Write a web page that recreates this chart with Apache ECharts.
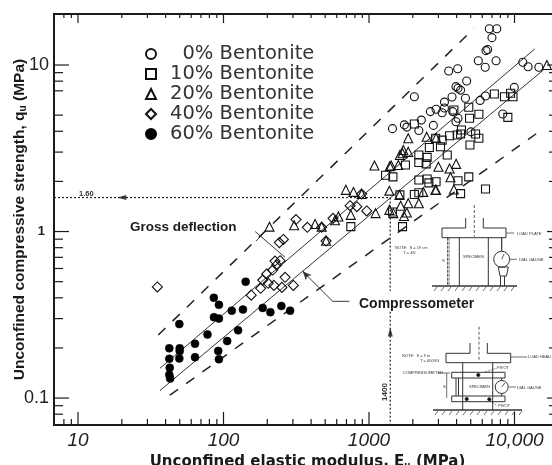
<!DOCTYPE html>
<html><head><meta charset="utf-8">
<style>html,body{margin:0;padding:0;background:#fff}#c{width:552px;height:465px}</style>
<script src="https://cdn.jsdelivr.net/npm/echarts@6/dist/echarts.min.js"></script></head>
<body><div id="c"></div>
<script>
const bentonite0=[[6710,16.5],[7560,16.5],[7000,14.6],[6540,12.4],[6370,12.2],[5640,10.6],[6290,9.7],[7470,10.6],[11400,10.4],[12400,9.77],[14700,9.7],[3530,9.2],[4070,9.5],[4690,8.02],[3960,7.42],[4090,7.25],[4260,7.07],[3720,6.43],[4600,6.32],[3300,5.99],[9970,7.34],[6320,6.52],[5800,6.13],[2050,6.45],[1450,4.15],[1750,4.37],[1820,4.24],[2200,4.04],[2290,4.67],[2770,4.34],[2640,5.25],[2890,5.42],[3180,5.17],[3300,5.52],[3760,5.25],[4090,4.79],[3960,4.56],[8300,5.08],[5020,3.97]];
const bentonite10=[[2050,4.42],[7270,6.7],[8530,6.45],[9760,6.45],[9400,6.77],[9000,4.85],[4850,5.58],[4910,4.79],[5690,5.06],[3830,5.37],[4320,4.07],[4040,3.8],[3580,3.76],[2870,3.63],[3180,3.54],[4260,3.85],[5400,3.85],[5690,3.63],[4940,3.31],[2600,3.2],[3100,3.23],[3450,2.88],[2200,2.88],[2510,2.79],[2200,2.6],[2470,2.55],[1780,2.51],[1300,2.18],[1460,2.13],[2200,2.04],[2510,2.07],[2890,1.99],[2580,1.96],[4090,2.02],[4850,2.13],[6320,1.8],[4260,1.69],[2050,1.67],[2200,1.71],[1630,1.66],[1450,1.31],[750,1.07],[1700,1.07]];
const bentonite20=[[207,1.07],[306,1.09],[426,1.11],[473,1.07],[693,1.78],[782,1.73],[890,1.68],[1380,1.76],[1620,1.66],[2360,1.73],[2860,1.78],[1650,1.43],[1860,1.48],[2200,1.48],[750,1.26],[1110,1.29],[1380,1.35],[1470,1.29],[1820,1.3],[1740,1.24],[616,1.23],[584,1.17],[507,0.88],[1860,3.63],[1390,2.47],[1590,2.51],[1720,3.09],[1630,2.88],[1860,3.01],[2490,3.71],[2890,3.65],[3000,2.45],[3580,2.39],[3970,2.55],[1090,2.49],[1420,2.49],[1700,2.95],[3630,2.12],[2890,1.78],[3830,1.79],[16700,10]];
const bentonite40=[[35.1,0.465],[155,0.415],[180,0.456],[186,0.511],[198,0.556],[203,0.489],[222,0.475],[252,0.462],[302,0.475],[265,0.531],[315,1.18],[377,1.06],[473,1.06],[507,0.877],[258,0.897],[242,0.858],[226,0.665],[245,0.668],[232,0.63],[218,0.587],[890,1.68],[825,1.41],[965,1.33],[741,1.43],[566,1.2]];
const bentonite60=[[142,0.5],[85.8,0.4],[93,0.363],[86,0.306],[93,0.3],[114,0.335],[136,0.34],[186,0.348],[210,0.328],[250,0.357],[287,0.335],[49.7,0.278],[77.6,0.241],[63.7,0.212],[126,0.255],[106,0.22],[92,0.192],[93,0.171],[63.7,0.176],[42.4,0.199],[50,0.199],[50,0.192],[42.4,0.172],[49.7,0.173],[42.7,0.152],[42.4,0.138],[43,0.131]];
const solidUpper=[[36.6,0.151],[13800,12.5]];
const solidLower=[[36.6,0.111],[15800,9.34]];
const dashedUpper=[[35.6,0.239],[5270,16.6]];
const dashedLower=[[42.8,0.104],[14400,3.92]];
const dottedH=[[6.84,1.6],[1400,1.6]];
const dottedV1=[[1400,1.6],[1400,0.44]];
const dottedV2=[[1400,0.33],[1400,0.0689]];
const grossLeader=[[165,1.0],[265,0.7]];
const compLeader=[[350,0.577],[563,0.381],[733,0.381]];
const arrowLeft=[[20,1.6]];
const arrowUp=[[1400,0.249]];
const arrowComp=[[350,0.577]];
const xMajor=[10,100,1000,10000];
const xMinor=[8,9,20,30,40,50,60,70,80,90,200,300,400,500,600,700,800,900,2000,3000,4000,5000,6000,7000,8000,9000];
const yMajor=[0.1,1,10];
const yMinor=[0.08,0.09,0.2,0.3,0.4,0.5,0.6,0.7,0.8,0.9,2,3,4,5,7,8,9];
const xLabels={10:'10',100:'100',1000:'1000',10000:'10,000'};
const yLabels={0.1:'0.1',1:'{one|1}',10:'10'};
const X_MIN=6.84,X_MAX=18390,Y_MIN=0.0689,Y_MAX=20.25;
const INK='#1a1a1a';

function mkAxis(kind,pos,extra){
  return Object.assign({type:'log',logBase:10,position:pos,
    min:kind==='x'?X_MIN:Y_MIN,max:kind==='x'?X_MAX:Y_MAX,
    splitLine:{show:false},minorTick:{show:false},
    axisLine:{show:false},axisTick:{show:false},axisLabel:{show:false}},extra||{});
}
const nameFont={rich:{
  a:{fontFamily:'Liberation Sans',fontWeight:'bold',fontSize:15.5,color:INK},
  b:{fontFamily:'DejaVu Sans',fontWeight:'bold',fontSize:15,color:INK},
  s:{fontFamily:'Liberation Sans',fontWeight:'bold',fontSize:10,color:INK,verticalAlign:'bottom',padding:[5,0,0,0]},
  t:{fontFamily:'DejaVu Sans',fontWeight:'bold',fontSize:9,color:INK,verticalAlign:'bottom',padding:[5,0,0,0]}}};
const xAxes=[mkAxis('x','bottom',{name:'{b|Unconfined elastic modulus, E}{t|u}{b| (MPa)}',nameLocation:'middle',nameGap:25,nameTextStyle:Object.assign({padding:[0,0,0,8]},nameFont),
   axisLabel:{show:true,customValues:xMajor,margin:6,fontFamily:'Liberation Sans',fontStyle:'italic',fontSize:19,color:'#222',formatter:v=>xLabels[Math.round(v)]||''}})];
const yAxes=[mkAxis('y','left',{name:'{a|Unconfined compressive strength, q}{s|u}{a| (MPa)}',nameLocation:'middle',nameGap:26,nameMoveOverlap:false,nameTextStyle:nameFont,
   axisLabel:{show:true,customValues:yMajor,margin:5,fontFamily:'Liberation Sans',fontSize:18,color:'#222',
     rich:{one:{fontFamily:'Liberation Sans',fontWeight:'bold',fontSize:13,color:'#222',padding:[0,4,0,0]}},
     formatter:v=>yLabels[+v.toPrecision(1)]||''}})];

function ticks(vals,axis,anchor,dx,dy){
  return {type:'custom',coordinateSystem:'cartesian2d',silent:true,clip:false,z:5,
    data:vals.map(v=>axis==='x'?[v,anchor]:[anchor,v]),
    encode:{x:0,y:1},
    renderItem:(p,api)=>{const c=api.coord([api.value(0),api.value(1)]);
      return {type:'line',shape:{x1:c[0],y1:c[1],x2:c[0]+dx,y2:c[1]+dy},style:{stroke:INK,lineWidth:1.2}};}};
}
function pts(name,data,symbol,size,filled){
  return {type:'scatter',name,data,symbol,symbolSize:size,z:3,
    itemStyle:filled?{color:'#000',borderColor:'#000',borderWidth:0.5,opacity:1}:{color:'rgba(255,255,255,0)',borderColor:'#111',borderWidth:1.1,opacity:1}};
}
function ln(data,w,type,color){
  return {type:'line',data,symbol:'none',silent:true,z:2,lineStyle:{color:color||'#222',width:w,type:type||'solid'}};
}
const series=[
 ticks(xMajor,'x',Y_MIN,0,-13),ticks(xMinor,'x',Y_MIN,0,-6),
 ticks(xMajor,'x',Y_MAX,0,9),ticks(xMinor,'x',Y_MAX,0,4),
 ticks(yMajor,'y',X_MIN,15,0),ticks(yMinor,'y',X_MIN,9,0),
 ticks(yMajor,'y',X_MAX,-6,0),ticks(yMinor,'y',X_MAX,-4,0),
 ln(solidUpper,1,'solid','#333'),ln(solidLower,1,'solid','#333'),
 ln(dashedUpper,1.5,[10,10]),ln(dashedLower,1.5,[10,10]),
 ln(dottedH,1.2,[2,2]),ln(dottedV1,1.2,[2,2]),ln(dottedV2,1.2,[2,2]),
 ln(grossLeader,0.9),ln(compLeader,0.9),
 {type:'scatter',data:arrowLeft,symbol:'triangle',symbolSize:[5,9],symbolRotate:90,itemStyle:{color:'#111'},silent:true},
 {type:'scatter',data:arrowUp,symbol:'triangle',symbolSize:[5,9],itemStyle:{color:'#111'},silent:true},
 {type:'scatter',data:arrowComp,symbol:'arrow',symbolSize:[6,9],symbolRotate:43,itemStyle:{color:'#111'},silent:true},
 pts('0% Bentonite',bentonite0,'circle',8,false),
 pts('10% Bentonite',bentonite10,'rect',8,false),
 pts('20% Bentonite',bentonite20,'triangle',9,false),
 pts('40% Bentonite',bentonite40,'diamond',10,false),
 pts('60% Bentonite',bentonite60,'circle',8,true)];

const g=[];
function poly(points,w,dash){g.push({type:'polyline',silent:true,z:1,shape:{points},style:{fill:null,stroke:'#333',lineWidth:w||1,lineDash:dash||null}});}
function txt(text,x,y,size,opt){g.push(Object.assign({type:'text',silent:true,z:4,x,y,style:Object.assign({text,fontFamily:'Liberation Sans',fontSize:size,fill:'#333',align:'left',verticalAlign:'middle'},opt&&opt.style||{})},opt&&opt.el||{}));}
function circ(cx,cy,r,fill){g.push({type:'circle',silent:true,z:1,shape:{cx,cy,r},style:{fill:fill||'#fff',stroke:'#333',lineWidth:1}});}
function hatch(x0,x1,y){poly([[x0,y],[x1,y]],1.4);for(let x=x0+2;x<x1;x+=7)poly([[x,y+5],[x+3,y+1]],0.7);}
// upper sketch: gross deflection set-up
poly([[465.7,218],[465.7,228],[442,228],[442,237.7],[506,237.7],[506,228],[483.3,228],[483.3,218]]);
poly([[474.3,205],[474.3,236.7]],0.8,[3,2]);
poly([[459.3,237.7],[459.3,286]]);poly([[488.3,237.7],[488.3,286]]);
poly([[447.5,237.7],[447.5,286]],0.8,[3,1]);poly([[449,237.7],[449,286]],0.8,[3,1]);
poly([[501.7,237.7],[501.7,251]],1.2);circ(501.7,259.3,8);poly([[501.7,259.3],[504,254]],0.8);
poly([[498.3,267],[508.3,267],[506.5,276],[500,276],[498.3,267]]);
poly([[500.5,276],[500.5,286]],1);poly([[504.5,276],[504.5,286]],1);
hatch(432,517,286);
poly([[506,233],[514,233]],0.7);poly([[510,259.3],[517,259.3]],0.7);
txt('SPECIMEN',463,256.7,4);txt('S',442,261,4);
txt('LOAD PLATE',517,233.5,4);txt('DIAL GAUGE',519,260,4);
txt('NOTE:  S = 19 cm',395,248,4);txt('T = 4/0',403,252.5,4);
// lower sketch: compressometer set-up
poly([[470,343],[470,353.3],[446,353.3],[446,362.7],[510.7,362.7],[510.7,353.3],[487.3,353.3],[487.3,343]]);
poly([[479,326.7],[479,360]],0.8,[3,2]);
poly([[462.7,362.7],[462.7,410]]);poly([[492.7,362.7],[492.7,410]]);
poly([[451.7,372.3],[505,372.3],[505,378],[451.7,378],[451.7,372.3]]);
poly([[451.7,396],[505,396],[505,401.7],[451.7,401.7],[451.7,396]]);
poly([[456,378],[456,396]]);poly([[458.5,378],[458.5,396]]);poly([[501.7,378],[501.7,381]]);poly([[501.7,393],[501.7,396]]);
circ(501.7,387,6.5);poly([[501.7,387],[505,383]],0.8);
circ(478.3,375,1.6,'#000');circ(466.7,399,1.6,'#000');circ(489.3,399.3,1.6,'#000');
hatch(433,522,410);
poly([[446.7,373],[446.7,398]],0.7);poly([[438,373],[450,373]],0.7);
poly([[511,357],[527,357]],0.7);poly([[509,387],[516,387]],0.7);
poly([[485,372],[497,368]],0.6,[2,1]);poly([[490,400],[497,405.7]],0.6,[2,1]);
txt('NOTE:  S = 9 in',402,356,4);txt('T = 600VG',420,360.5,4);
txt('COMPRESSOMETER',403,373,4);txt('SPECIMEN',469,387,4);txt('LOAD HEAD',528,357,4);
txt('PIVOT',497,368,4);txt('PIVOT',498,406,4);txt('DIAL GAUGE',517,388,4);txt('S',443,387,4);
// annotations
txt('1.60',79,193.5,7.5,{style:{fontWeight:'bold'}});
txt('1400',385,392,8,{style:{fontWeight:'bold',align:'center'},el:{rotation:Math.PI/2}});
txt('Gross deflection',130,227,13.5,{style:{fontWeight:'bold',fill:INK}});
txt('Compressometer',359,304,14,{style:{fontWeight:'bold',fill:INK}});
poly([[256,241],[265,232]],0.9);

const chart=echarts.init(document.getElementById('c'),null,{renderer:'canvas'});
chart.setOption({animation:false,backgroundColor:'#fff',
 grid:{left:54,top:14,width:499,height:411,outerBoundsMode:'none',show:true,borderColor:INK,borderWidth:2,backgroundColor:'transparent'},
 xAxis:xAxes,yAxis:yAxes,series,graphic:g,
 legend:{show:true,orient:'vertical',left:140,top:39,itemWidth:10,itemHeight:10,itemGap:0,selectedMode:false,
  data:['0% Bentonite','10% Bentonite','20% Bentonite','40% Bentonite','60% Bentonite'],
  formatter:n=>n.startsWith('0%')?'\u2007'+n:n,
  textStyle:{fontFamily:'"DejaVu Sans ExtraLight","DejaVu Sans"',fontSize:19.5,color:'#333',lineHeight:18,padding:[0,0,0,9]}}
});
</script></body></html>
